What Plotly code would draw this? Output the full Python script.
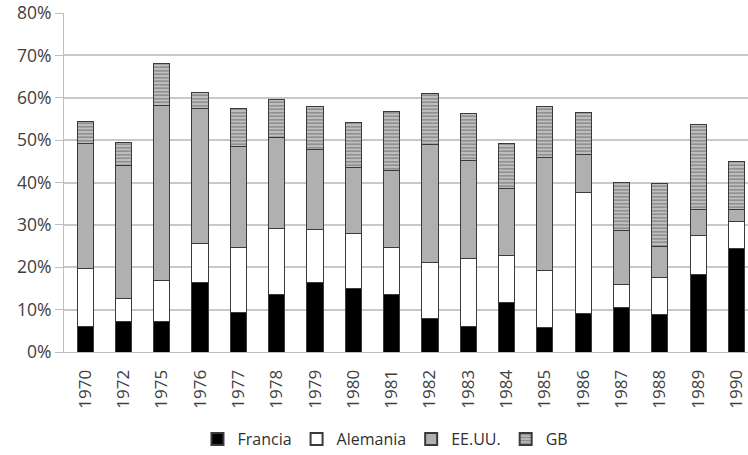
import plotly.graph_objects as go

years = ["1970", "1972", "1975", "1976", "1977", "1978", "1979", "1980", "1981",
         "1982", "1983", "1984", "1985", "1986", "1987", "1988", "1989", "1990"]
francia = [6.1, 7.1, 7.1, 16.3, 9.3, 13.6, 16.3, 15.1, 13.6, 7.8, 6.1, 11.6, 5.8, 9.2, 10.5, 8.9, 18.4, 24.4]
alemania = [13.7, 5.5, 9.8, 9.2, 15.4, 15.5, 12.6, 12.8, 11.0, 13.3, 15.9, 11.1, 13.5, 28.5, 5.4, 8.8, 9.1, 6.5]
eeuu = [29.3, 31.5, 41.2, 32.0, 23.8, 21.6, 18.9, 15.6, 18.2, 27.8, 23.3, 15.8, 26.7, 8.9, 12.8, 7.2, 6.1, 2.7]
gb = [5.3, 5.4, 10.0, 3.7, 9.0, 8.8, 10.1, 10.7, 13.9, 12.1, 10.9, 10.6, 12.0, 9.9, 11.3, 14.8, 20.2, 11.3]
y_ticks = [0, 10, 20, 30, 40, 50, 60, 70, 80]
y_labels = ["0%", "10%", "20%", "30%", "40%", "50%", "60%", "70%", "80%"]

font = "Open Sans"
line = dict(color="#3a3a3a", width=1)

fig = go.Figure()
fig.add_bar(x=years, y=francia, name="Francia",
            marker=dict(color="#000000", line=line))
fig.add_bar(x=years, y=alemania, name="Alemania",
            marker=dict(color="#ffffff", line=line))
fig.add_bar(x=years, y=eeuu, name="EE.UU.",
            marker=dict(color="#b0b0b0", line=line))
fig.add_bar(x=years, y=gb, name="GB",
            marker=dict(color="#a8a8a8", line=line,
                        pattern=dict(shape="-", fgcolor="#484848", bgcolor="#c0c0c0",
                                     size=3.5, solidity=0.4, fillmode="overlay")))

fig.update_layout(
    barmode="stack",
    bargap=0.58,
    width=748, height=455,
    margin=dict(l=64, r=0, t=13, b=103),
    paper_bgcolor="white", plot_bgcolor="white",
    font=dict(family=font, size=15, color="#404040"),
    showlegend=True,
    legend=dict(orientation="h", x=0.47, xanchor="center",
                yref="container", y=0.035, yanchor="middle",
                font=dict(size=16, color="#303030"), traceorder="normal",
                itemsizing="constant", itemwidth=30),
    xaxis=dict(tickangle=-90, showline=True, linecolor="#bdbdbd", linewidth=1,
               range=[-0.55, 17.3], ticklabelstandoff=10,
               tickfont=dict(size=17, color="#404040"), ticks="", showgrid=False),
    yaxis=dict(range=[0, 80], tickvals=y_ticks, ticktext=y_labels,
               showgrid=True, gridcolor="#c8c8c8", gridwidth=1.5,
               showline=True, linecolor="#bdbdbd", linewidth=1,
               ticks="outside", ticklen=8, tickcolor="#bdbdbd",
               tickfont=dict(size=17.5, color="#404040"), zeroline=False),
)

fig.write_html("out.html", config={"displayModeBar": False},
               post_script="document.body.style.margin='0';document.body.style.overflow='hidden';")
